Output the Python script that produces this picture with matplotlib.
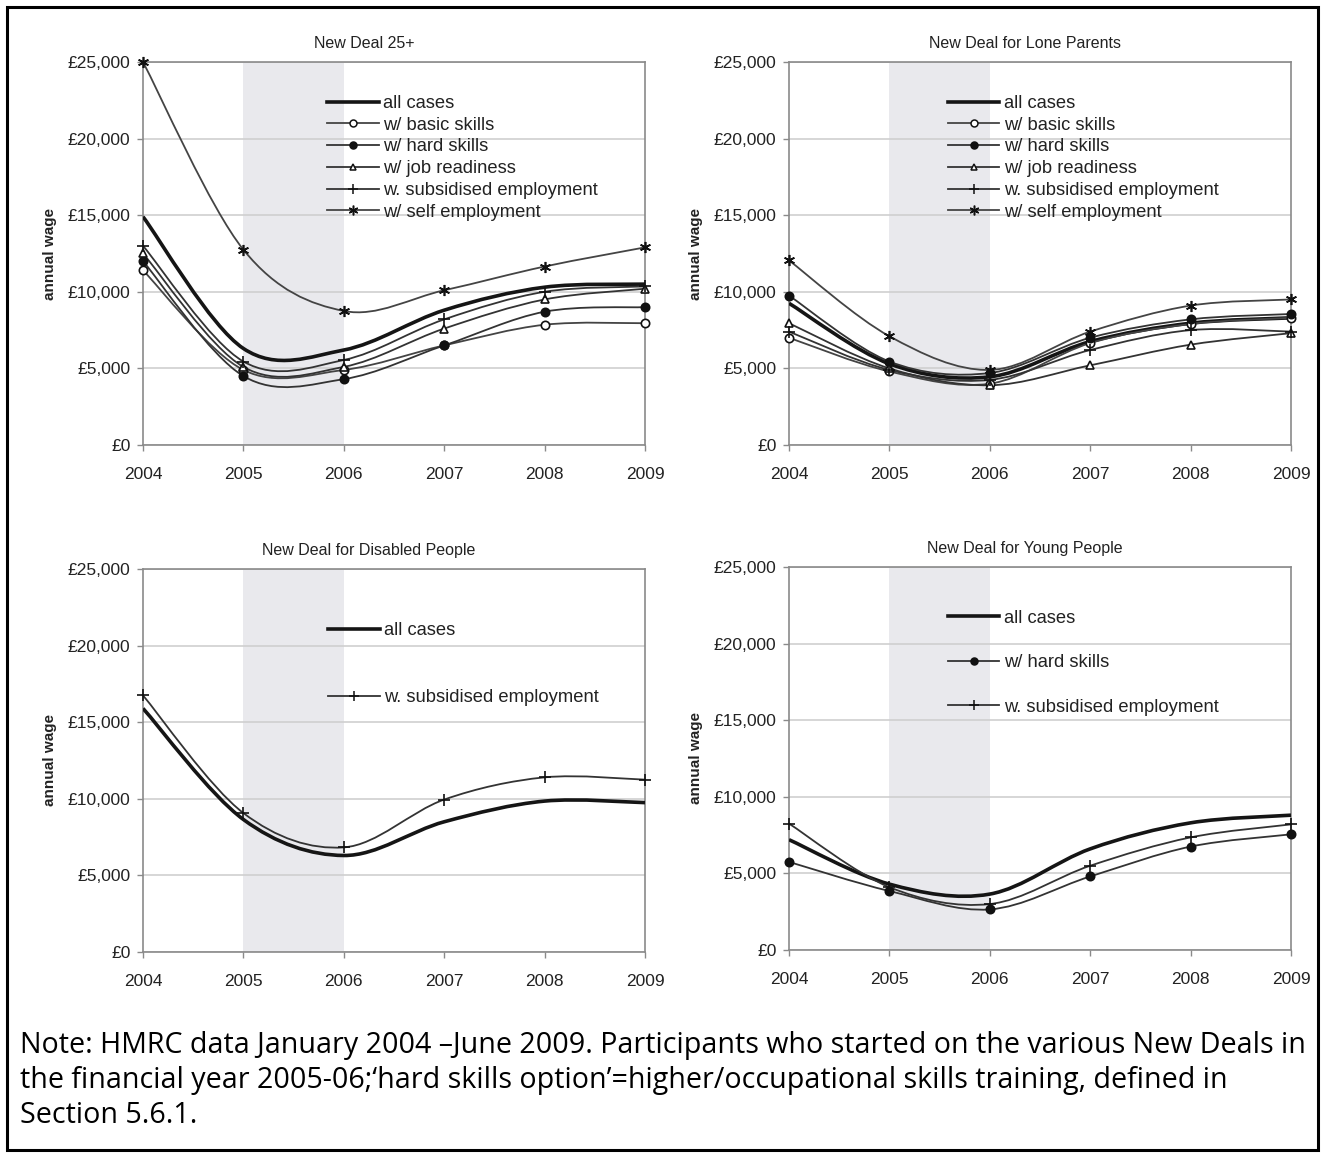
import numpy as np
import matplotlib
matplotlib.use('Agg')
import matplotlib.pyplot as plt
from matplotlib.path import Path
from matplotlib.patches import PathPatch, Rectangle
from matplotlib.lines import Line2D
from matplotlib.ticker import FuncFormatter

plt.rcParams['font.family'] = ['Liberation Sans', 'DejaVu Sans']

years = [2004, 2005, 2006, 2007, 2008, 2009]

# New Deal 25+
nd25_all = [14900, 6300, 6200, 8800, 10300, 10500]
nd25_basic = [11400, 4900, 4900, 6500, 7850, 7950]
nd25_hard = [12000, 4500, 4300, 6500, 8700, 9000]
nd25_job = [12500, 5100, 5100, 7600, 9500, 10200]
nd25_subs = [13000, 5450, 5550, 8200, 10000, 10350]
nd25_self = [25000, 12750, 8750, 10100, 11650, 12900]

# New Deal for Lone Parents
ndlp_all = [9250, 5300, 4450, 6750, 7950, 8300]
ndlp_basic = [7000, 4800, 4000, 6650, 7900, 8300]
ndlp_hard = [9750, 5450, 4700, 7000, 8200, 8550]
ndlp_job = [7950, 5000, 3900, 5200, 6550, 7300]
ndlp_subs = [7400, 4900, 4250, 6200, 7500, 7400]
ndlp_self = [12050, 7100, 4900, 7400, 9100, 9500]

# New Deal for Disabled People
nddp_all = [15900, 8650, 6300, 8500, 9850, 9750]
nddp_subs = [16750, 9070, 6830, 9950, 11400, 11250]

# New Deal for Young People
ndyp_all = [7200, 4300, 3650, 6600, 8300, 8800]
ndyp_hard = [5750, 3850, 2650, 4800, 6750, 7550]
ndyp_subs = [8250, 4100, 3000, 5500, 7350, 8200]

styles = {
    'all cases': dict(color='#151515', lw=2.6, marker=None, ms=6),
    'w/ basic skills': dict(color='#444444', lw=1.3, marker='o', mfc='white', ms=6),
    'w/ hard skills': dict(color='#333333', lw=1.3, marker='o', mfc='#111111', ms=6),
    'w/ job readiness': dict(color='#333333', lw=1.3, marker='^', mfc='white', ms=6),
    'w. subsidised employment': dict(color='#333333', lw=1.3, marker='+', mfc='none', ms=8),
    'w/ self employment': dict(color='#444444', lw=1.3, marker=(6, 2, 0), mfc='none', ms=8),
}


def smooth_path(xs, ys):
    # Excel-like smoothed line: Catmull-Rom as cubic Bezier
    p = np.column_stack([xs, ys]).astype(float)
    pts = np.vstack([p[0], p, p[-1]])
    verts = [p[0]]
    codes = [Path.MOVETO]
    for i in range(1, len(pts) - 2):
        c1 = pts[i] + (pts[i + 1] - pts[i - 1]) / 6.0
        c2 = pts[i + 1] - (pts[i + 2] - pts[i]) / 6.0
        verts += [c1, c2, pts[i + 1]]
        codes += [Path.CURVE4] * 3
    return Path(verts, codes)


def draw_panel(ax, title, title_x, series, leg_anchor, labelspacing, box_right):
    ax.add_patch(Rectangle((2005, 0), 1, 25000, facecolor='#e9e9ed',
                           edgecolor='none', zorder=0))
    # white area behind the legend hides the gridlines there
    ax.add_patch(Rectangle((2006, 12500), box_right - 2006, 12400, facecolor='white',
                           edgecolor='none', zorder=0.7))
    ax.set_xlim(2004, 2009)
    ax.set_ylim(0, 25000)
    ax.set_yticks(range(0, 25001, 5000))
    ax.set_xticks(years)
    ax.yaxis.set_major_formatter(FuncFormatter(lambda v, p: '£{:,.0f}'.format(v)))
    ax.grid(axis='y', color='#cfcfcf', lw=1.2, zorder=0.5)
    for s in ax.spines.values():
        s.set_color('#8a8a8a')
        s.set_linewidth(1.2)
    ax.tick_params(colors='#8a8a8a', labelcolor='#222222', labelsize=12.5,
                   length=4, width=1)
    ax.tick_params(axis='x', pad=12)
    ax.tick_params(axis='y', pad=5)
    ax.set_ylabel('annual wage', fontsize=11, fontweight='bold', color='#222222',
                  labelpad=8)
    ax.set_title(title, fontsize=11.5, color='#222222', pad=10, x=title_x)

    handles = []
    for label, vals in series:
        st = styles[label]
        ax.add_patch(PathPatch(smooth_path(years, vals), fill=False,
                               edgecolor=st['color'], lw=st['lw'], zorder=3))
        if st['marker'] is not None:
            ax.plot(years, vals, ls='none', marker=st['marker'], ms=st['ms'],
                    mfc=st['mfc'], mec='#111111', mew=1.2, zorder=4, clip_on=False)
        handles.append(Line2D([], [], color=st['color'], lw=st['lw'],
                              marker=st['marker'], ms=st['ms'] - 1,
                              mfc=st.get('mfc', 'none'), mec='#111111', mew=1.1,
                              label=label))
    leg = ax.legend(handles=handles, loc='upper left', bbox_to_anchor=leg_anchor,
                    frameon=False, fontsize=13.2, handlelength=2.8,
                    handletextpad=0.25, labelspacing=labelspacing,
                    borderpad=0, borderaxespad=0)
    for t in leg.get_texts():
        t.set_color('#222222')
    leg.set_zorder(5)


fig = plt.figure(figsize=(13.25, 11.57), dpi=100)

W, H = 1325.0, 1157.0


def axes_px(x0, y0, x1, y1):
    return fig.add_axes([x0 / W, 1 - y1 / H, (x1 - x0) / W, (y1 - y0) / H])


ax1 = axes_px(143, 62, 645, 445)
ax2 = axes_px(789, 62, 1291, 445)
ax3 = axes_px(143, 569, 645, 952)
ax4 = axes_px(789, 567, 1291, 950)

draw_panel(ax1, 'New Deal 25+', 0.44, [
    ('all cases', nd25_all), ('w/ basic skills', nd25_basic),
    ('w/ hard skills', nd25_hard), ('w/ job readiness', nd25_job),
    ('w. subsidised employment', nd25_subs), ('w/ self employment', nd25_self)],
    (0.367, 0.914), 0.26, 2008.3)
draw_panel(ax2, 'New Deal for Lone Parents', 0.47, [
    ('all cases', ndlp_all), ('w/ basic skills', ndlp_basic),
    ('w/ hard skills', ndlp_hard), ('w/ job readiness', ndlp_job),
    ('w. subsidised employment', ndlp_subs), ('w/ self employment', ndlp_self)],
    (0.317, 0.914), 0.26, 2007.83)
draw_panel(ax3, 'New Deal for Disabled People', 0.45, [
    ('all cases', nddp_all), ('w. subsidised employment', nddp_subs)],
    (0.369, 0.861), 2.72, 2008.3)
draw_panel(ax4, 'New Deal for Young People', 0.47, [
    ('all cases', ndyp_all), ('w/ hard skills', ndyp_hard),
    ('w. subsidised employment', ndyp_subs)],
    (0.317, 0.888), 1.5, 2007.83)

note = ("Note: HMRC data January 2004 \u2013June 2009. Participants who started on the various New Deals in\n"
        "the financial year 2005-06;\u2018hard skills option\u2019=higher/occupational skills training, defined in\n"
        "Section 5.6.1.")
fig.text(20 / W, 1 - 1031 / H, note, fontsize=20.6, family=['Open Sans', 'DejaVu Sans'],
         va='top', ha='left', linespacing=1.27, color='black')

fig.patches.append(Rectangle((7 / W, 7 / H), 1311 / W, 1143 / H, transform=fig.transFigure,
                             fill=False, edgecolor='black', lw=2.2))

fig.savefig('out.png', dpi=100, facecolor='white')
